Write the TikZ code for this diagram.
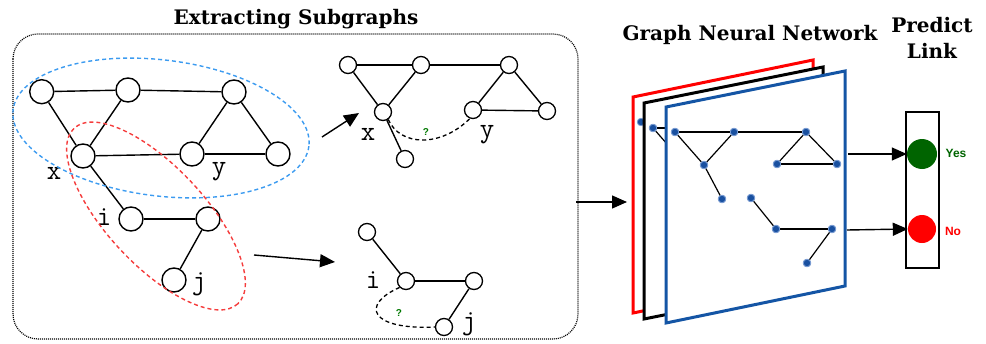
\documentclass[tikz,border=0pt]{standalone}
\usepackage{fontspec}
\newfontfamily\titlefont{DejaVu Serif}
\newfontfamily\labsans{Liberation Sans}
\usetikzlibrary{arrows.meta}
\definecolor{ellblue}{RGB}{60,155,240}
\definecolor{ellred}{RGB}{245,60,60}
\definecolor{qgreen}{RGB}{0,120,0}
\definecolor{panelblue}{RGB}{20,85,165}
\definecolor{dotblue}{RGB}{25,80,160}
\definecolor{dothalo}{RGB}{120,155,210}
\definecolor{yesgreen}{RGB}{0,100,0}
\tikzset{
  bigc/.style={circle,draw,line width=1.4pt,minimum size=24pt,inner sep=0pt,fill=white},
  smallc/.style={circle,draw,line width=1.3pt,minimum size=17pt,inner sep=0pt,fill=white},
  edge/.style={line width=1.4pt},
  lab/.style={font=\fontsize{28}{28}\selectfont\ttfamily,inner sep=0pt},
  qmark/.style={font=\labsans\bfseries\fontsize{10}{10}\selectfont,text=qgreen,inner sep=0pt},
  guess/.style={line width=1.3pt,dash pattern=on 4pt off 3pt},
  bigarrow/.style={line width=1.4pt,-{Triangle[length=15pt,width=13pt]}},
  title/.style={font=\titlefont\bfseries\fontsize{20}{26}\selectfont,align=center,inner sep=0pt},
  gdot/.style={circle,fill=dotblue,draw=dothalo,line width=0.8pt,minimum size=7.5pt,inner sep=0pt},
  gedge/.style={line width=1.2pt},
  panel/.style={line width=3pt,fill=white,line join=miter},
}
\begin{document}
\begin{tikzpicture}[x=1pt,y=-1pt]
\useasboundingbox (0,0) rectangle (986,343);
% titles
\node[title] (t1) at (296,19.5) {Extracting Subgraphs};
\node[title] (t2) at (750,34.5) {Graph Neural Network};
\node[title] (t3) at (932,37.5) {Predict\\Link};
% dotted frame
\draw[line width=1.2pt,dash pattern=on 1pt off 1pt,rounded corners=25pt] (13,34) rectangle (578,339);
\coordinate (frameout) at (576,202);

% main graph
\node[bigc] (A) at (41.7,91.7) {};
\node[bigc] (B) at (128,90) {};
\node[bigc] (C) at (234,92) {};
\node[bigc] (X) at (83,156) {};
\node[bigc] (Y) at (192,154) {};
\node[bigc] (D) at (278,154) {};
\node[bigc] (I) at (131,219) {};
\node[bigc] (J2) at (208,219) {};
\node[bigc] (J) at (174,280) {};
\draw[edge] (A) -- (B); \draw[edge] (B) -- (C);
\draw[edge] (A) -- (X); \draw[edge] (B) -- (X);
\draw[edge] (X) -- (Y); \draw[edge] (Y) -- (D);
\draw[edge] (C) -- (Y); \draw[edge] (C) -- (D);
\draw[edge] (X) -- (I); \draw[edge] (I) -- (J2);
\draw[edge] (J2) -- (J);
\node[lab] (lx) at (54,173) {x};
\node[lab] (ly) at (219,172) {y};
\node[lab] (li) at (104,217) {i};
\node[lab] (lj) at (199,284) {j};
% ellipses
\draw[ellblue,line width=1.4pt,dash pattern=on 4pt off 3pt,rotate around={-7:(161,128)}] (161,128) ellipse [x radius=149,y radius=68];
\draw[ellred,line width=1.4pt,dash pattern=on 4pt off 3pt,rotate around={-47:(156,216)}] (156,216) ellipse [x radius=120,y radius=49];

% arrows to subgraphs
\coordinate (a1s) at (322,137);
\coordinate (a1e) at (359,113);
\draw[bigarrow] (a1s) -- (a1e);
\coordinate (a2s) at (254,255);
\coordinate (a2e) at (335,262);
\draw[bigarrow] (a2s) -- (a2e);

% upper subgraph
\node[smallc] (U1) at (348,65) {};
\node[smallc] (U2) at (421,65) {};
\node[smallc] (U3) at (509,65) {};
\node[smallc] (UX) at (383,112) {};
\node[smallc] (UY) at (473,110) {};
\node[smallc] (U5) at (547,111) {};
\node[smallc] (U6) at (405,159) {};
\draw[edge] (U1) -- (U2); \draw[edge] (U2) -- (U3);
\draw[edge] (U1) -- (UX); \draw[edge] (U2) -- (UX);
\draw[edge] (UX) -- (U6);
\draw[edge] (U3) -- (UY); \draw[edge] (U3) -- (U5);
\draw[edge] (UY) -- (U5);
\draw[guess] (UX.-55) .. controls (400,146) and (440,148) .. (UY.-110);
\node[qmark] (q1) at (426,132) {?};
\node[lab] (ux) at (368,134) {x};
\node[lab] (uy) at (487,135) {y};

% lower subgraph
\node[smallc] (L1) at (367,232) {};
\node[smallc] (LI) at (406,281) {};
\node[smallc] (L3) at (474,281) {};
\node[smallc] (LJ) at (444,327) {};
\draw[edge] (L1) -- (LI); \draw[edge] (LI) -- (L3);
\draw[edge] (L3) -- (LJ);
\draw[guess] (LI.-135) .. controls (360,305) and (370,330) .. (LJ.west);
\node[qmark] (q2) at (399,313) {?};
\node[lab] (ui) at (373,280) {i};
\node[lab] (uj) at (469,324) {j};

% GNN panels
\coordinate (gin) at (627,202);
\draw[bigarrow] (frameout) -- (gin);
\draw[panel,draw=red] (633,97) -- (813,60) -- (813,276) -- (633,313) -- cycle;
\node[gdot] (R1) at (641,122) {};
\draw[panel,draw=black] (644,103) -- (823,67) -- (823,283) -- (644,319) -- cycle;
\node[gdot] (K1) at (653,128) {};
\coordinate (K2) at (712,128);
\coordinate (K4) at (682,161);
\draw[gedge] (K1) -- (K2);
\draw[gedge] (K1) -- (K4);
\node[gdot] at (K1) {};
\draw[panel,draw=panelblue] (666,107) -- (845,71) -- (845,286) -- (666,323) -- cycle;
\node[gdot] (P1) at (675,132) {};
\node[gdot] (P2) at (734,132) {};
\node[gdot] (P3) at (806,132) {};
\node[gdot] (P4) at (704,165) {};
\node[gdot] (P5) at (777,164) {};
\node[gdot] (P6) at (837,164) {};
\node[gdot] (P7) at (722,199) {};
\node[gdot] (P8) at (751,198) {};
\node[gdot] (P9) at (776,229) {};
\node[gdot] (P10) at (832,229) {};
\node[gdot] (P11) at (807,263) {};
\draw[gedge] (P1) -- (P2); \draw[gedge] (P2) -- (P3);
\draw[gedge] (P1) -- (P4); \draw[gedge] (P2) -- (P4);
\draw[gedge] (P4) -- (P7);
\draw[gedge] (P3) -- (P5); \draw[gedge] (P3) -- (P6);
\draw[gedge] (P5) -- (P6);
\draw[gedge] (P8) -- (P9); \draw[gedge] (P9) -- (P10);
\draw[gedge] (P10) -- (P11);
\foreach \p in {P1,P2,P3,P4,P5,P6,P7,P8,P9,P10,P11} {\node[gdot] at (\p) {};}

% output box
\draw[line width=1.5pt] (906,112) rectangle (939,268);
\node[circle,fill=yesgreen,minimum size=30pt,inner sep=0pt] (yes) at (922,154) {};
\node[circle,fill=red,minimum size=28pt,inner sep=0pt] (no) at (922,229) {};
\coordinate (ys) at (848,154);
\coordinate (ns) at (847,230);
\draw[bigarrow] (ys) -- (yes.west);
\draw[bigarrow] (ns) -- (no.west);
\node[font=\labsans\bfseries\fontsize{12}{12}\selectfont,text=yesgreen,inner sep=0pt] (yt) at (956,153) {Yes};
\node[font=\labsans\bfseries\fontsize{12}{12}\selectfont,text=red,inner sep=0pt] (nt) at (953,231) {No};
\end{tikzpicture}
\end{document}
